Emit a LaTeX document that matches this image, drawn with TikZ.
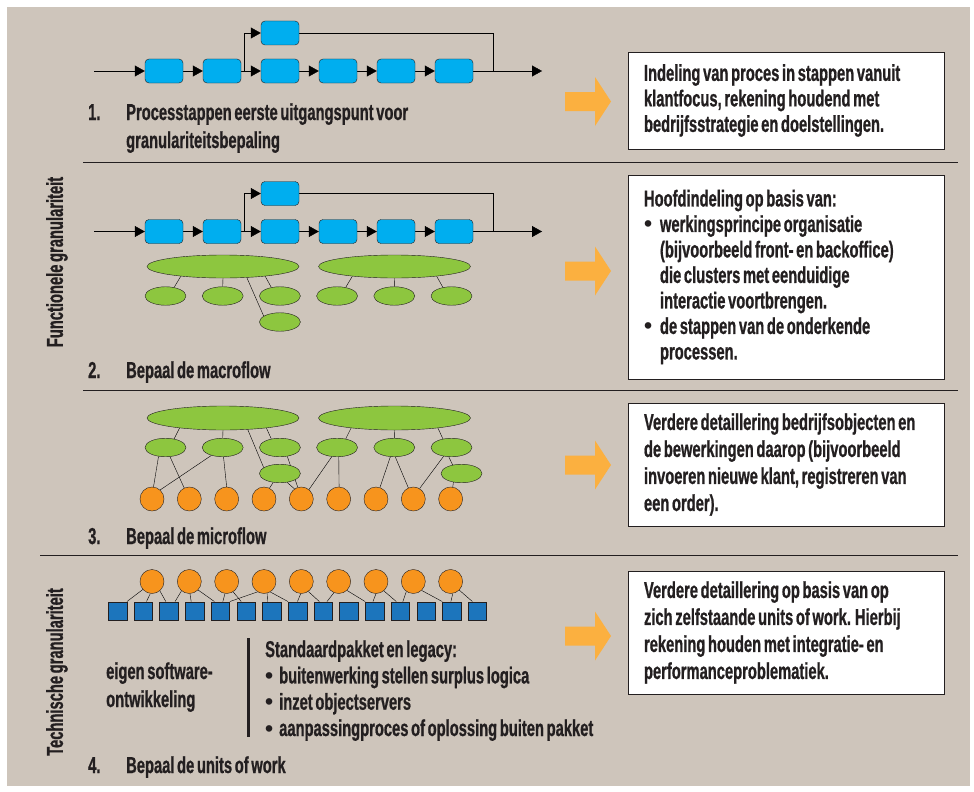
\documentclass[tikz,border=0pt]{standalone}
\usepackage{fontspec}
\setmainfont{Liberation Sans}[FakeStretch=0.64,WordSpace=0.65,BoldFeatures={FakeBold=0.8}]
\newfontfamily\dotfont{Liberation Sans}
\usetikzlibrary{positioning,shapes.geometric,arrows.meta}

\definecolor{paper}{RGB}{206,197,187}
\definecolor{ink}{RGB}{35,31,32}
\definecolor{stepblue}{RGB}{0,174,239}
\definecolor{leaf}{RGB}{141,198,63}
\definecolor{fruit}{RGB}{247,148,29}
\definecolor{unitblue}{RGB}{28,117,188}
\definecolor{arrowgold}{RGB}{251,176,64}

\newcommand{\blob}[1][16pt]{\makebox[#1][l]{\dotfont\textbullet}}

\pgfdeclarelayer{backdrop}
\pgfdeclarelayer{wires}
\pgfsetlayers{backdrop,wires,main}

\begin{document}
\begin{tikzpicture}[x=1pt,y=-1pt,color=ink,line width=1.2pt,
  >={Triangle[length=10pt,width=11pt]},
  stepbox/.style={rounded corners=4pt,draw=ink,fill=stepblue,minimum width=38pt,minimum height=24pt,inner sep=0pt},
  cluster/.style={ellipse,draw=ink,fill=leaf,minimum width=152pt,minimum height=23pt,inner sep=0pt},
  flow/.style={ellipse,draw=ink,fill=leaf,minimum width=41pt,minimum height=18.5pt,inner sep=0pt},
  unit/.style={circle,draw=ink,fill=fruit,minimum size=24pt,inner sep=0pt},
  block/.style={draw=ink,fill=unitblue,minimum size=18.5pt,inner sep=0pt},
  infobox/.style={draw=ink,fill=white,text width=284pt,inner xsep=16pt,inner ysep=0pt,align=left,
    font=\bfseries\fontsize{23pt}{25.5pt}\selectfont,
    execute at begin node={\spaceskip=0pt\xspaceskip=0pt}},
  caption/.style={anchor=base west,align=left,inner sep=0pt,font=\bfseries\fontsize{23pt}{28pt}\selectfont},
  sidetitle/.style={rotate=90,inner sep=0pt,font=\bfseries\fontsize{23pt}{28pt}\selectfont}]

\useasboundingbox (0,0) rectangle (974,792);
\begin{pgfonlayer}{backdrop}
  \fill[paper] (7,7) rectangle (970,786);
\end{pgfonlayer}

% left titles and dividers
\node[sidetitle] (functional) at (57,262) {Functionele granulariteit};
\node[sidetitle] (technical) at (57,672) {Technische granulariteit};
\draw (83,162) -- (958,162);
\draw (83,390.5) -- (958,390.5);
\draw (40,555.5) -- (958,555.5);

% 1. process steps
\node[stepbox] (s1a) at (164,71) {};
\node[stepbox] (s1b) [right of=s1a, node distance=58pt] {};
\node[stepbox] (s1c) [right of=s1b, node distance=58pt] {};
\node[stepbox] (s1d) [right of=s1c, node distance=58pt] {};
\node[stepbox] (s1e) [right of=s1d, node distance=58pt] {};
\node[stepbox] (s1f) [right of=s1e, node distance=58pt] {};
\node[stepbox] (s1t) [above of=s1c, node distance=38pt] {};
\coordinate[left of=s1a, node distance=70pt] (in1);
\coordinate[right of=s1b, node distance=22pt] (fork1);
\coordinate[right of=s1f, node distance=39pt] (join1);
\coordinate[right of=s1f, node distance=88pt] (out1);
\begin{pgfonlayer}{wires}
\path[->] (in1) edge (s1a) (s1a) edge (s1b) (s1b) edge (s1c) (s1c) edge (s1d)
  (s1d) edge (s1e) (s1e) edge (s1f) (s1f) edge (out1);
\draw[->] (fork1) |- (s1t);
\draw (s1t) -| (join1);
\end{pgfonlayer}
\node[caption] (num1) at (88,120) {1.};
\node[caption] (cap1) at (126,148) {Processtappen eerste uitgangspunt voor\\granulariteitsbepaling};

% 2. macroflow
\node[stepbox] (s2a) at (164,231.5) {};
\node[stepbox] (s2b) [right of=s2a, node distance=58pt] {};
\node[stepbox] (s2c) [right of=s2b, node distance=58pt] {};
\node[stepbox] (s2d) [right of=s2c, node distance=58pt] {};
\node[stepbox] (s2e) [right of=s2d, node distance=58pt] {};
\node[stepbox] (s2f) [right of=s2e, node distance=58pt] {};
\node[stepbox] (s2t) [above of=s2c, node distance=38pt] {};
\coordinate[left of=s2a, node distance=70pt] (in2);
\coordinate[right of=s2b, node distance=22pt] (fork2);
\coordinate[right of=s2f, node distance=39pt] (join2);
\coordinate[right of=s2f, node distance=88pt] (out2);
\node[cluster] (g1) at (223,266.5) {};
\node[cluster] (g2) [right of=g1, node distance=171.5pt] {};
\node[flow] (f1) at (165.5,296) {};
\node[flow] (f2) [right of=f1, node distance=57.2pt] {};
\node[flow] (f3) [right of=f2, node distance=57.2pt] {};
\node[flow] (f4) [right of=f3, node distance=57.2pt] {};
\node[flow] (f5) [right of=f4, node distance=57.2pt] {};
\node[flow] (f6) [right of=f5, node distance=57.2pt] {};
\node[flow] (f7) [below of=f3, node distance=26pt] {};
\begin{pgfonlayer}{wires}
\path[->] (in2) edge (s2a) (s2a) edge (s2b) (s2b) edge (s2c) (s2c) edge (s2d)
  (s2d) edge (s2e) (s2e) edge (s2f) (s2f) edge (out2);
\draw[->] (fork2) |- (s2t);
\draw (s2t) -| (join2);
\draw (g1.-167) -- (f1.45);
\draw (g1.-90) -- (f2.90);
\draw (g1.-13) -- (f3.135);
\draw (g1.-25) -- (f7.160);
\draw (g2.-167) -- (f4.45);
\draw (g2.-90) -- (f5.90);
\draw (g2.-13) -- (f6.135);
\end{pgfonlayer}
\node[caption] (num2) at (88,378) {2.};
\node[caption] (cap2) at (126,378) {Bepaal de macroflow};

% 3. microflow
\node[cluster,minimum height=24pt] (g3) at (223,418) {};
\node[cluster,minimum height=24pt] (g4) [right of=g3, node distance=171.5pt] {};
\node[flow] (m1) at (165.5,447.5) {};
\node[flow] (m2) [right of=m1, node distance=57.2pt] {};
\node[flow] (m3) [right of=m2, node distance=57.2pt] {};
\node[flow] (m4) [right of=m3, node distance=57.2pt] {};
\node[flow] (m5) [right of=m4, node distance=57.2pt] {};
\node[flow] (m6) [right of=m5, node distance=57.2pt] {};
\node[flow] (x3) [below of=m3, node distance=26pt] {};
\node[flow] (x6) at (461.5,473.5) {};
\node[unit] (c1) at (152,499) {};
\node[unit] (c2) [right of=c1, node distance=37.33pt] {};
\node[unit] (c3) [right of=c2, node distance=37.33pt] {};
\node[unit] (c4) [right of=c3, node distance=37.33pt] {};
\node[unit] (c5) [right of=c4, node distance=37.33pt] {};
\node[unit] (c6) [right of=c5, node distance=37.33pt] {};
\node[unit] (c7) [right of=c6, node distance=37.33pt] {};
\node[unit] (c8) [right of=c7, node distance=37.33pt] {};
\node[unit] (c9) [right of=c8, node distance=37.33pt] {};
\begin{pgfonlayer}{wires}
\draw (g3.-167) -- (m1.45);
\draw (g3.-90) -- (m2.90);
\draw (g3.-13) -- (m3.135);
\draw (g3.-25) -- (x3.160);
\draw (g4.-167) -- (m4.45);
\draw (g4.-90) -- (m5.90);
\draw (g4.-13) -- (m6.135);
\draw (m1.-128) -- (c1.83);
\draw (m1.-64) -- (c2.115);
\draw (m2.-145) -- (c1.48);
\draw (m2.-85) -- (c3.90);
\draw (x3.-127) -- (c4.63);
\draw (x3.-51) -- (c5.124);
\draw (m3.-50) -- (c5.107);
\draw (m4.-120) -- (c5.51);
\draw (m4.-80) -- (c6.88);
\draw (m5.-113) -- (c7.71);
\draw (m5.-84) -- (c8.114);
\draw (m6.-132) -- (c8.59);
\draw (m6.-106) -- (x6.136);
\draw (x6.-133) -- (c9.80);
\end{pgfonlayer}
\node[caption] (num3) at (88,544) {3.};
\node[caption] (cap3) at (126,544) {Bepaal de microflow};

% 4. units of work
\node[unit] (u1) at (152,581.5) {};
\node[unit] (u2) [right of=u1, node distance=37.33pt] {};
\node[unit] (u3) [right of=u2, node distance=37.33pt] {};
\node[unit] (u4) [right of=u3, node distance=37.33pt] {};
\node[unit] (u5) [right of=u4, node distance=37.33pt] {};
\node[unit] (u6) [right of=u5, node distance=37.33pt] {};
\node[unit] (u7) [right of=u6, node distance=37.33pt] {};
\node[unit] (u8) [right of=u7, node distance=37.33pt] {};
\node[unit] (u9) [right of=u8, node distance=37.33pt] {};
\node[block] (q1) at (117.5,611) {};
\node[block] (q2) [right of=q1, node distance=25.71pt] {};
\node[block] (q3) [right of=q2, node distance=25.71pt] {};
\node[block] (q4) [right of=q3, node distance=25.71pt] {};
\node[block] (q5) [right of=q4, node distance=25.71pt] {};
\node[block] (q6) [right of=q5, node distance=25.71pt] {};
\node[block] (q7) [right of=q6, node distance=25.71pt] {};
\node[block] (q8) [right of=q7, node distance=25.71pt] {};
\node[block] (q9) [right of=q8, node distance=25.71pt] {};
\node[block] (q10) [right of=q9, node distance=25.71pt] {};
\node[block] (q11) [right of=q10, node distance=25.71pt] {};
\node[block] (q12) [right of=q11, node distance=25.71pt] {};
\node[block] (q13) [right of=q12, node distance=25.71pt] {};
\node[block] (q14) [right of=q13, node distance=25.71pt] {};
\node[block] (q15) [right of=q14, node distance=25.71pt] {};
\begin{pgfonlayer}{wires}
\draw (u1.-139) -- (q1.north east);
\draw (u1.-98) -- (q2.71);
\draw (u1.-50) -- (q3.108);
\draw (u2.-130) -- (q3.57);
\draw (u2.-87) -- (q4.110);
\draw (u2.-44) -- (q5.122);
\draw (u3.-98) -- (q5.75);
\draw (u3.-58) -- (q6.117);
\draw (u4.-122) -- (q5.north east);
\draw (u4.-75) -- (q7.114);
\draw (u4.-59) -- (q8.north west);
\draw (u5.-93) -- (q8.90);
\draw (u5.-55) -- (q9.112);
\draw (u6.-113) -- (q9.68);
\draw (u6.-47) -- (q11.north west);
\draw (u7.-90) -- (q11.100);
\draw (u7.-50) -- (q12.113);
\draw (u8.-125) -- (q12.75);
\draw (u8.-47) -- (q14.north west);
\draw (u9.-80) -- (q14.95);
\draw (u9.-45) -- (q15.118);
\end{pgfonlayer}
\node[caption] (own) at (106,707) {eigen software-\\ontwikkeling};
\draw[line width=3pt] (248,638) -- (248,737);
\node[caption,font=\bfseries\fontsize{23pt}{26.3pt}\selectfont] (pkg) at (265,736)
  {Standaardpakket en legacy:\\\blob[14pt]buitenwerking stellen surplus logica\\\blob[14pt]inzet objectservers\\\blob[14pt]aanpassingproces of oplossing buiten pakket};
\node[caption] (num4) at (88,773) {4.};
\node[caption] (cap4) at (126,773) {Bepaal de units of work};

% orange pointers
\fill[arrowgold] (565,92) -- ++(30,0) -- ++(0,-15) -- ++(16,24.5) -- ++(-16,24.5) -- ++(0,-15) -- ++(-30,0) -- cycle;
\fill[arrowgold] (565,261.5) -- ++(30,0) -- ++(0,-15) -- ++(16,24.5) -- ++(-16,24.5) -- ++(0,-15) -- ++(-30,0) -- cycle;
\fill[arrowgold] (565,455.5) -- ++(30,0) -- ++(0,-15) -- ++(16,24.5) -- ++(-16,24.5) -- ++(0,-15) -- ++(-30,0) -- cycle;
\fill[arrowgold] (565,626.5) -- ++(30,0) -- ++(0,-15) -- ++(16,24.5) -- ++(-16,24.5) -- ++(0,-15) -- ++(-30,0) -- cycle;

% explanation boxes
\node[infobox,minimum height=97pt] (info1) at (786,100.5)
  {Indeling van proces in stappen vanuit\\klantfocus, rekening houdend met\\bedrijfsstrategie en doelstellingen.};
\node[infobox,minimum height=204pt] (info2) at (786,277)
  {Hoofdindeling op basis van:\\\blob werkingsprincipe organisatie\\\hspace*{16pt}(bijvoorbeeld front- en backoffice)\\\hspace*{16pt}die clusters met eenduidige\\\hspace*{16pt}interactie voortbrengen.\\\blob de stappen van de onderkende\\\hspace*{16pt}processen.};
\node[infobox,minimum height=123pt,font=\bfseries\fontsize{23pt}{27pt}\selectfont] (info3) at (786,464.5)
  {Verdere detaillering bedrijfsobjecten en\\de bewerkingen daarop (bijvoorbeeld\\invoeren nieuwe klant, registreren van\\een order).};
\node[infobox,minimum height=123pt,font=\bfseries\fontsize{23pt}{27pt}\selectfont] (info4) at (786,632.5)
  {Verdere detaillering op basis van op\\zich zelfstaande units of work. Hierbij\\rekening houden met integratie- en\\performanceproblematiek.};

\end{tikzpicture}
\end{document}
